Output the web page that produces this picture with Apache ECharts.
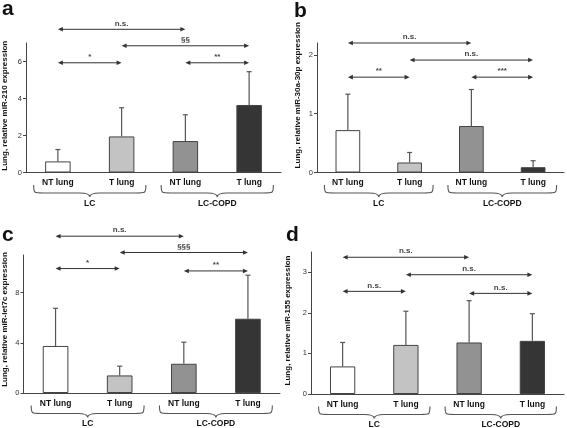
<!DOCTYPE html>
<html><head><meta charset="utf-8">
<script src="https://cdn.jsdelivr.net/npm/echarts@6/dist/echarts.min.js"></script>
<style>html,body{margin:0;padding:0;background:#fff}#c{width:567px;height:428px}</style>
</head><body><div id="c"></div>
<script>
// ---- data ----
const categories = ['NT lung', 'T lung', 'NT lung', 'T lung'];
const groupLabels = ['LC', 'LC-COPD'];
const groupSpans = [[0, 1], [2, 3]];
const panelLetters = ['a', 'b', 'c', 'd'];
const yNames = [
  'Lung, relative miR-210 expression',
  'Lung, relative miR-30a-30p expression',
  'Lung, relative miR-let7c expression',
  'Lung, relative miR-155 expression'
];
const sigPairs = [[0, 2], [1, 3], [0, 1], [2, 3]];

const aMean = [0.6, 1.95, 1.7, 3.65];
const aUpper = [1.24, 3.5, 3.12, 5.45];
const aTicks = [0, 2, 4, 6];
const aMax = 7;
const aSigLevels = [7.74, 6.85, 5.93, 5.93];
const aSigText = ['n.s.', '§§', '*', '**'];

const bMean = [0.72, 0.17, 0.79, 0.09];
const bUpper = [1.33, 0.34, 1.41, 0.2];
const bTicks = [0, 1, 2];
const bMax = 2.2;
const bSigLevels = [2.2, 1.91, 1.62, 1.62];
const bSigText = ['n.s.', 'n.s.', '**', '***'];

const cMean = [3.75, 1.4, 2.33, 5.92];
const cUpper = [6.75, 2.14, 4.05, 9.39];
const cTicks = [0, 4, 8];
const cMax = 11;
const cSigLevels = [12.5, 11.2, 9.92, 9.73];
const cSigText = ['n.s.', '§§§', '*', '**'];

const dMean = [0.68, 1.21, 1.27, 1.31];
const dUpper = [1.27, 2.04, 2.3, 1.98];
const dTicks = [0, 1, 2, 3];
const dMax = 3.5;
const dSigLevels = [3.37, 2.94, 2.53, 2.48];
const dSigText = ['n.s.', 'n.s.', 'n.s.', 'n.s.'];

// ---- styling / layout ----
const barColors = ['#ffffff', '#c3c3c3', '#929292', '#353535'];
const FONT = 'Liberation Sans';
const panels = [
  { mean: aMean, upper: aUpper, ticks: aTicks, max: aMax, lv: aSigLevels, tx: aSigText,
    grid: { left: 25, top: 43, width: 256, height: 129.5 }, gap: 17, pad: 4, title: [2, -1] },
  { mean: bMean, upper: bUpper, ticks: bTicks, max: bMax, lv: bSigLevels, tx: bSigText,
    grid: { left: 317, top: 43, width: 247, height: 129.5 }, gap: 15, pad: 25, title: [294, 0.5] },
  { mean: cMean, upper: cUpper, ticks: cTicks, max: cMax, lv: cSigLevels, tx: cSigText,
    grid: { left: 23, top: 255, width: 257, height: 138 }, gap: 14.5, pad: 9, title: [2, 225] },
  { mean: dMean, upper: dUpper, ticks: dTicks, max: dMax, lv: dSigLevels, tx: dSigText,
    grid: { left: 311, top: 252, width: 253, height: 142 }, gap: 19, pad: 5, title: [286, 225] }
];

const grid = [], xAxis = [], yAxis = [], series = [], title = [];

panels.forEach((p, i) => {
  grid.push(Object.assign({ containLabel: false }, p.grid));
  title.push({ text: panelLetters[i], left: p.title[0], top: p.title[1], padding: 0,
    textStyle: { fontSize: 21, fontWeight: 'bold', color: '#111', fontFamily: FONT } });
  xAxis.push({
    gridIndex: i, type: 'category', data: categories,
    axisLine: { lineStyle: { color: '#444', width: 1 } },
    axisTick: { length: 3, lineStyle: { color: '#444' } },
    axisLabel: { fontSize: 8.5, fontWeight: 'bold', color: '#111', margin: 6, fontFamily: FONT }
  });
  yAxis.push({
    gridIndex: i, type: 'value', min: 0, max: p.max,
    name: yNames[i], nameLocation: 'middle', nameGap: p.gap,
    nameTextStyle: { fontSize: 8, fontWeight: 'bold', color: '#111', fontFamily: FONT, padding: [0, 0, 0, p.pad] },
    axisLine: { show: true, lineStyle: { color: '#444', width: 1 } },
    axisTick: { show: true, length: 3, customValues: p.ticks, lineStyle: { color: '#444' } },
    axisLabel: { customValues: p.ticks, fontSize: 7.5, color: '#333', margin: 4, fontFamily: FONT },
    splitLine: { show: false }
  });
  series.push({
    type: 'bar', xAxisIndex: i, yAxisIndex: i, barWidth: '40%',
    itemStyle: { borderColor: '#444', borderWidth: 1 },
    data: p.mean.map((v, k) => ({ value: v, itemStyle: { color: barColors[k] } })),
    z: 2
  });
  // error bars
  series.push({
    type: 'custom', xAxisIndex: i, yAxisIndex: i, clip: false, z: 3,
    encode: { x: 0, y: [1, 2] },
    data: p.mean.map((v, k) => [k, v, p.upper[k]]),
    renderItem: (params, api) => {
      const x = api.value(0);
      const b = api.coord([x, api.value(1)]);
      const t = api.coord([x, api.value(2)]);
      const st = { stroke: '#555', lineWidth: 1.2 };
      return { type: 'group', children: [
        { type: 'line', shape: { x1: b[0], y1: b[1], x2: t[0], y2: t[1] }, style: st },
        { type: 'line', shape: { x1: t[0] - 2.5, y1: t[1], x2: t[0] + 2.5, y2: t[1] }, style: st }
      ] };
    }
  });
  // significance arrows
  const texts = p.tx;
  series.push({
    type: 'custom', xAxisIndex: i, yAxisIndex: i, clip: false, z: 4,
    encode: { x: [0, 1], y: 2 },
    data: sigPairs.map((sp, k) => [sp[0], sp[1], p.lv[k]]),
    renderItem: (params, api) => {
      const y = api.value(2);
      const p1 = api.coord([api.value(0), y]);
      const p2 = api.coord([api.value(1), y]);
      const L = 5, H = 2.3, c = '#333';
      return { type: 'group', children: [
        { type: 'line', shape: { x1: p1[0] + L - 1, y1: p1[1], x2: p2[0] - L + 1, y2: p2[1] }, style: { stroke: c, lineWidth: 1 } },
        { type: 'polygon', shape: { points: [[p1[0], p1[1]], [p1[0] + L, p1[1] - H], [p1[0] + L, p1[1] + H]] }, style: { fill: c } },
        { type: 'polygon', shape: { points: [[p2[0], p2[1]], [p2[0] - L, p2[1] - H], [p2[0] - L, p2[1] + H]] }, style: { fill: c } },
        { type: 'text', x: (p1[0] + p2[0]) / 2, y: p1[1] - 2,
          style: { text: texts[params.dataIndex], fontSize: 8, fontWeight: 'bold', fill: '#444', fontFamily: FONT,
            align: 'center', verticalAlign: 'bottom' } }
      ] };
    }
  });
  // group braces
  series.push({
    type: 'custom', xAxisIndex: i, yAxisIndex: i, clip: false, z: 4,
    encode: { x: [0, 1], y: 2 },
    data: groupSpans.map(g => [g[0], g[1], 0]),
    renderItem: (params, api) => {
      const s = api.coord([api.value(0), 0]);
      const e = api.coord([api.value(1), 0]);
      const bw = api.size([1, 0])[0];
      const x1 = s[0] - 0.38 * bw, x2 = e[0] + 0.38 * bw, xm = (x1 + x2) / 2;
      const y0 = s[1] + 12.5, y1 = s[1] + 20.5, y2 = s[1] + 24.5, r = 10;
      const d = `M${x1} ${y0} C${x1} ${y1} ${x1} ${y1} ${x1 + r} ${y1} L${xm - r} ${y1} Q${xm} ${y1} ${xm} ${y2} ` +
        `Q${xm} ${y1} ${xm + r} ${y1} L${x2 - r} ${y1} C${x2} ${y1} ${x2} ${y1} ${x2} ${y0}`;
      return { type: 'group', children: [
        { type: 'path', shape: { pathData: d }, style: { stroke: '#555', lineWidth: 1.1, fill: null } },
        { type: 'text', x: xm, y: s[1] + 26.5,
          style: { text: groupLabels[params.dataIndex], fontSize: 8.5, fontWeight: 'bold', fill: '#111', fontFamily: FONT,
            align: 'center', verticalAlign: 'top' } }
      ] };
    }
  });
});

const chart = echarts.init(document.getElementById('c'), null, { renderer: 'canvas' });
chart.setOption({
  animation: false,
  backgroundColor: '#fff',
  textStyle: { fontFamily: FONT },
  title, grid, xAxis, yAxis, series
});
</script>
</body></html>
